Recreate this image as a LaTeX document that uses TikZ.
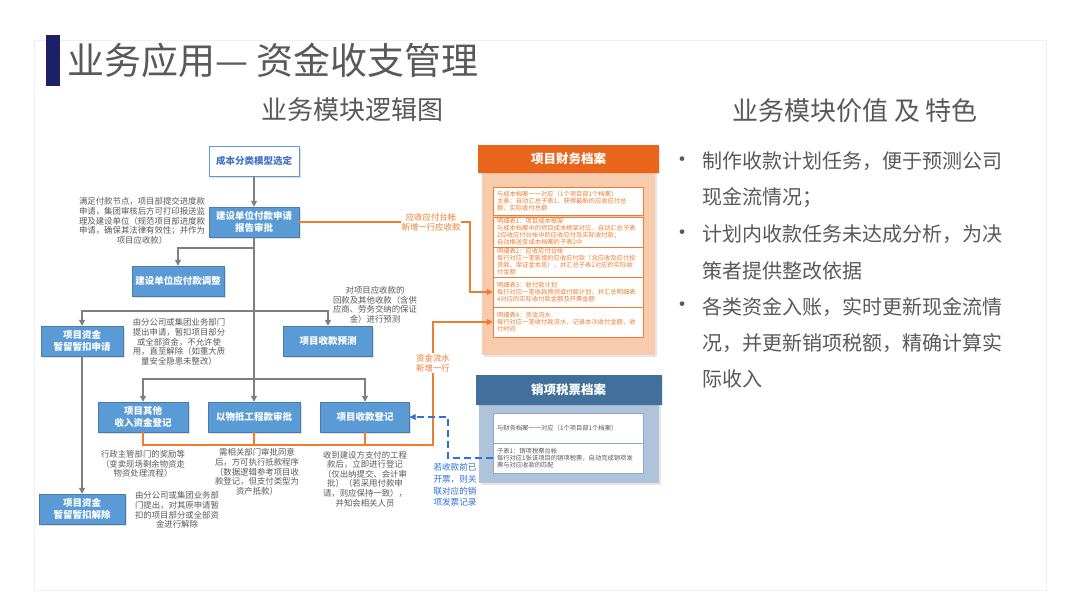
\documentclass[tikz,border=0pt]{standalone}
\usepackage{fontspec}
\setmainfont{Noto Sans CJK SC}
\usepackage{tikz}
\usetikzlibrary{arrows.meta,shadows}
\definecolor{modblue}{HTML}{5B9BD5}
\definecolor{txtblue}{HTML}{4472C4}
\definecolor{linegray}{HTML}{7F7F7F}
\definecolor{notegray}{HTML}{595959}
\definecolor{flow}{HTML}{ED7D31}
\definecolor{cwhead}{HTML}{E9651C}
\definecolor{cwpanel}{HTML}{F8CBAD}
\definecolor{shead}{HTML}{41709C}
\definecolor{spanel}{HTML}{AFC3DA}
\definecolor{sline}{HTML}{8EA9C9}
\definecolor{dashblue}{HTML}{2E6FD8}
\definecolor{titlebar}{HTML}{1C2066}
\tikzset{
  modul/.style={rectangle, draw=modblue!80!black, line width=0.4pt, fill=modblue, text=white,
                align=center, font=\fontsize{9.5}{11.5}\selectfont\bfseries, minimum height=30pt,
                drop shadow={opacity=0.25, shadow xshift=1.5pt, shadow yshift=-1.5pt}},
  modulw/.style={modul, fill=white, draw=modblue, line width=0.8pt, text=txtblue},
  note/.style={align=center, text=notegray, inner sep=1pt, font=\fontsize{8.4}{9.6}\selectfont},
  flowlab/.style={align=center, text=flow, fill=white, inner sep=1pt, font=\fontsize{8.4}{10}\selectfont},
  cwrow/.style={rectangle, draw=flow, line width=0.5pt, fill=white, text=flow, align=left,
                text width=142pt, inner xsep=4pt, inner ysep=1pt, minimum height=#1,
                font=\fontsize{6.3}{7}\selectfont},
  srow/.style={cwrow=#1, draw=sline, text=notegray},
  archhead/.style={rectangle, text=white, align=center, font=\fontsize{12.5}{14}\selectfont\bfseries,
                drop shadow={opacity=0.2, shadow xshift=1pt, shadow yshift=-1pt}},
  archpanel/.style={rectangle, fill=#1, drop shadow={opacity=0.2, shadow xshift=2pt, shadow yshift=-2pt}},
  vtext/.style={anchor=west, align=left, text=notegray, inner sep=0pt, font=\fontsize{20}{36.2}\selectfont},
  vdot/.style={text=notegray, inner sep=0pt, font=\fontsize{22}{22}\selectfont},
  arr/.style={-{Triangle[length=6pt,width=6pt]}, line width=1.2pt, draw=linegray},
  oline/.style={line width=1.2pt, draw=flow},
  oarr/.style={oline, -{Triangle[length=6pt,width=6pt]}},
  barr/.style={-{Triangle[length=6pt,width=6pt]}, dash pattern=on 7pt off 4pt, line width=1.1pt, draw=dashblue},
}
\begin{document}
\begin{tikzpicture}[x=1pt, y=-1pt]
  \useasboundingbox[fill=white] (0,0) rectangle (1080,608);
  \draw[gray!12, line width=0.6pt] (34,40) rectangle (1046,590);
  \fill[titlebar] (46,35) rectangle (60,86);
  \node[anchor=west, text=notegray, inner sep=0pt, font=\fontsize{37}{40}\selectfont] (title) at (67,60) {业务应用— 资金收支管理};
  \node[text=notegray, font=\fontsize{26}{30}\selectfont] (hleft) at (352,110) {业务模块逻辑图};
  \node[text=notegray, font=\fontsize{26}{30}\selectfont] (hright) at (855,111) {业务模块价值 及 特色};

  \node[vdot] (d1) at (682,162) {•};
  \node[vdot] (d2) at (682,235) {•};
  \node[vdot] (d3) at (682,307) {•};
  \node[vtext] (v1) at (702,180) {制作收款计划任务，便于预测公司\\现金流情况；};
  \node[vtext] (v2) at (702,252.5) {计划内收款任务未达成分析，为决\\策者提供整改依据};
  \node[vtext] (v3) at (702,343) {各类资金入账，实时更新现金流情\\况，并更新销项税额，精确计算实\\际收入};

  \node[modulw, minimum width=90pt] (n0) at (254,161) {成本分类模型选定};
  \node[modul, minimum width=90pt] (n1) at (254,222) {建设单位付款申请\\报告审批};
  \node[modul, minimum width=91pt] (n2) at (178,281) {建设单位应付款调整};
  \node[modul, minimum width=82pt] (n3) at (82,341) {项目资金\\暂留暂扣申请};
  \node[modul, minimum width=89pt] (n4) at (328,341) {项目收款预测};
  \node[modul, minimum width=90pt] (n5) at (143,417) {项目其他\\收入资金登记};
  \node[modul, minimum width=92pt] (n6) at (254,417) {以物抵工程款审批};
  \node[modul, minimum width=89pt] (n7) at (365,417) {项目收款登记};
  \node[modul, minimum width=86pt] (n8) at (82,509) {项目资金\\暂留暂扣解除};

  \node[note] (a1) at (142,221) {满足付款节点，项目部提交进度款\\申请，集团审核后方可打印报送监\\理及建设单位（规范项目部进度款\\申请，确保其法律有效性；并作为\\项目应收款）};
  \node[note] (a2) at (179,342) {由分公司或集团业务部门\\提出申请，暂扣项目部分\\或全部资金，不允许使\\用，直至解除（如重大质\\量安全隐患未整改）};
  \node[note] (a3) at (375,305) {对项目应收款的\\回款及其他收款（含供\\应商、劳务交纳的保证\\金）进行预测};
  \node[note] (a4) at (143,464) {行政主管部门的奖励等\\（变卖现场剩余物资走\\物资处理流程）};
  \node[note] (a5) at (257,472) {需相关部门审批同意\\后，方可执行抵款程序\\（数据逻辑参考项目收\\款登记，但支付类型为\\资产抵款）};
  \node[note] (a6) at (365,479) {收到建设方支付的工程\\款后，立即进行登记\\（仅出纳提交、会计审\\批）（若采用付款申\\请，则应保持一致），\\并知会相关人员};
  \node[note] (a7) at (177,510) {由分公司或集团业务部\\门提出，对其原申请暂\\扣的项目部分或全部资\\金进行解除};

  \node[archpanel=cwpanel, minimum width=173pt, minimum height=210pt] (cwbox) at (568.5,250) {};
  \node[archhead, fill=cwhead, minimum width=181pt, minimum height=28pt] (cwhd) at (568.5,159) {项目财务档案};
  \node[cwrow=28pt] (r1) at (568,201) {与成本档案一一对应（1个项目部1个档案）\\主表：自动汇总子表1，获得最新的应收应付总\\额、实际收付总额};
  \node[cwrow=30pt] (r2) at (568,232) {明细表1：项目成本框架\\与成本档案中的项目成本框架对应，自动汇总子表\\2应收应付台帐中的应收应付及实际收付款；\\自动推送至成本档案的子表2中};
  \node[cwrow=30pt] (r3) at (568,262) {明细表2：应收应付台帐\\每行对应一笔新增的应收应付款（含应收及应付投\\资款、保证金本息），并汇总子表2对应的实际收\\付金额};
  \node[cwrow=30pt] (r4) at (568,292) {明细表3：收付款计划\\每行对应一笔收款预测或付款计划，并汇总明细表\\4对应的实际收付款金额及开票金额};
  \node[cwrow=30pt] (r5) at (568,322) {明细表4：资金流水\\每行对应一笔收付款流水，记录本次收付金额，收\\付时间};

  \node[archpanel=spanel, minimum width=180pt, minimum height=108pt] (sbox) at (568.5,429) {};
  \node[archhead, fill=shead, minimum width=186pt, minimum height=30pt] (shd) at (568.5,390) {销项税票档案};
  \node[srow=30pt] (t1) at (568,428) {与财务档案一一对应（1个项目部1个档案）};
  \node[srow=30pt] (t2) at (568,458) {子表1：销项税票台帐\\每行对应1张该项目的销项税票，自动完成销项发\\票与对应收款的匹配};

  \coordinate (b1) at (254,248);
  \coordinate (b2) at (254,311);
  \coordinate (b3) at (254,379);
  \coordinate (k1) at (470,222);
  \coordinate (k2) at (433,445);
  \coordinate (k3) at (448,458);
  \draw[arr] (n0) -- (n1);
  \draw[arr] (n1) -- (n6);
  \draw[arr] (b1) -| (n2);
  \draw[arr] (b2) -| (n3);
  \draw[arr] (b2) -| (n4);
  \draw[arr] (b3) -| (n5);
  \draw[arr] (b3) -| (n7);
  \draw[arr] (n3) -- (n8);
  \draw[oarr] (n1) -- (k1) |- (r4);
  \draw[oarr] (n5) |- (k2) |- (r5);
  \draw[oline] (n6) -- (n6 |- k2);
  \draw[oline] (n7) -- (n7 |- k2);
  \draw[barr] (t2) -- (k3) |- (n7);

  \node[flowlab] (lb1) at (431,222) {应收应付台帐\\新增一行应收款};
  \node[flowlab] (lb2) at (433,363) {资金流水\\新增一行};
  \node[align=center, text=dashblue, inner sep=1pt, font=\fontsize{8.6}{11.7}\selectfont] (lb3) at (455,485) {若收款前已\\开票，则关\\联对应的销\\项发票记录};
\end{tikzpicture}
\end{document}
